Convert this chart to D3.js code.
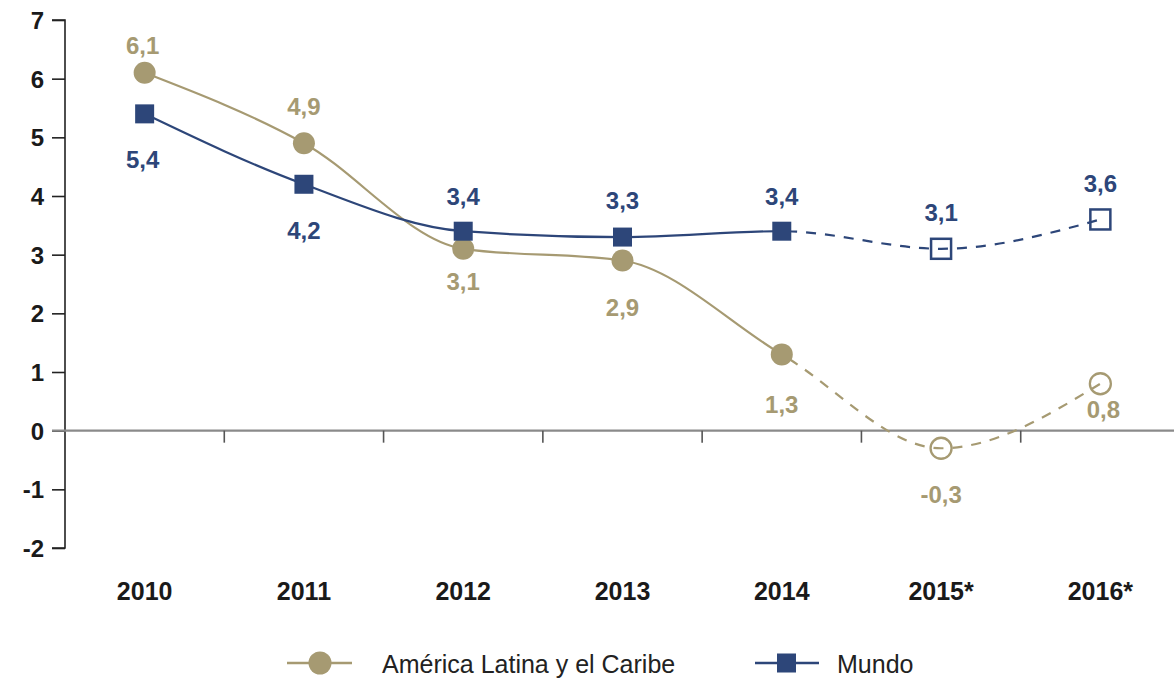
<!DOCTYPE html>
<html>
<head>
<meta charset="utf-8">
<script src="https://cdn.jsdelivr.net/npm/d3@7"></script>
<style>
  html, body { margin: 0; padding: 0; background: #fff; }
  svg { display: block; }
</style>
</head>
<body>
<svg id="chart" width="1174" height="679"></svg>
<script>
// ---- Data ----
const years = ["2010", "2011", "2012", "2013", "2014", "2015*", "2016*"];
const latamValues = [6.1, 4.9, 3.1, 2.9, 1.3, -0.3, 0.8];
const mundoValues = [5.4, 4.2, 3.4, 3.3, 3.4, 3.1, 3.6];
const latamLabels = ["6,1", "4,9", "3,1", "2,9", "1,3", "-0,3", "0,8"];
const mundoLabels = ["5,4", "4,2", "3,4", "3,3", "3,4", "3,1", "3,6"];
const yTicks = [-2, -1, 0, 1, 2, 3, 4, 5, 6, 7];
const seriesNames = ["América Latina y el Caribe", "Mundo"];
const lastActualIndex = 4; // 2014: afterwards projections (dashed, hollow)

// ---- Styles ----
const TAN = "#A69A72";
const BLUE = "#2D4679";
const TEXT = "#1a1a1a";
const FONT = "'Liberation Sans', Arial, sans-serif";

const svg = d3.select("#chart");
const x = d3.scaleBand().domain(years).range([65, 1180]).paddingInner(0).paddingOuter(0);
const y = d3.scaleLinear().domain([-2, 7]).range([548, 20]);
const cx = d => x(d) + x.bandwidth() / 2;

// Y axis
const yAxis = d3.axisLeft(y).tickValues(yTicks).tickSize(13).tickPadding(8).tickFormat(d => String(d));
const gy = svg.append("g").attr("transform", "translate(65,0)").call(yAxis);
gy.select(".domain").attr("stroke", "#222").attr("stroke-width", 1.6).attr("d", `M-13,${y(7)}H0V${y(-2)}H-13`);
gy.selectAll(".tick line").attr("stroke", "#222").attr("stroke-width", 1.6);
gy.selectAll(".tick text")
  .attr("fill", TEXT)
  .style("font-family", FONT)
  .style("font-weight", "bold")
  .style("font-size", "24px")
  .attr("dy", "0.36em");

// Zero line with category separators (x axis)
const gx = svg.append("g").attr("transform", `translate(0,${y(0)})`);
gx.append("line").attr("x1", 52).attr("x2", 1174).attr("y1", 0).attr("y2", 0)
  .attr("stroke", "#8a8a8a").attr("stroke-width", 2.4);
gx.selectAll("line.sep").data(years.slice(1)).join("line").attr("class", "sep")
  .attr("x1", d => x(d)).attr("x2", d => x(d)).attr("y1", 0).attr("y2", 12)
  .attr("stroke", "#555").attr("stroke-width", 1.6);

// X labels
svg.append("g").selectAll("text").data(years).join("text")
  .attr("x", d => cx(d)).attr("y", 591)
  .attr("text-anchor", "middle").attr("dominant-baseline", "central")
  .attr("fill", TEXT)
  .style("font-family", FONT)
  .style("font-weight", "bold").style("font-size", "25px")
  .text(d => d);

// Clip paths for solid / dashed portions
const splitX = cx(years[lastActualIndex]);
const defs = svg.append("defs");
defs.append("clipPath").attr("id", "clipSolid").append("rect")
  .attr("x", 0).attr("y", 0).attr("width", splitX).attr("height", 679);
defs.append("clipPath").attr("id", "clipDash").append("rect")
  .attr("x", splitX).attr("y", 0).attr("width", 1174 - splitX).attr("height", 679);

const line = d3.line().x((d, i) => cx(years[i])).y(d => y(d)).curve(d3.curveMonotoneX);

function drawSeries(values, color) {
  svg.append("path").attr("d", line(values)).attr("fill", "none")
    .attr("stroke", color).attr("stroke-width", 2.2).attr("clip-path", "url(#clipSolid)");
  svg.append("path").attr("d", line(values)).attr("fill", "none")
    .attr("stroke", color).attr("stroke-width", 2.2).attr("stroke-dasharray", "10,9")
    .attr("clip-path", "url(#clipDash)");
}
drawSeries(latamValues, TAN);
drawSeries(mundoValues, BLUE);

// Markers
const gm = svg.append("g");
latamValues.forEach((v, i) => {
  const proj = i > lastActualIndex;
  gm.append("circle").attr("cx", cx(years[i])).attr("cy", y(v))
    .attr("r", proj ? 10.5 : 11)
    .attr("fill", proj ? "none" : TAN)
    .attr("stroke", TAN).attr("stroke-width", proj ? 2.3 : 0);
});
mundoValues.forEach((v, i) => {
  const proj = i > lastActualIndex;
  const s = proj ? 20 : 19;
  gm.append("rect").attr("x", cx(years[i]) - s / 2).attr("y", y(v) - s / 2)
    .attr("width", s).attr("height", s)
    .attr("fill", proj ? "none" : BLUE)
    .attr("stroke", BLUE).attr("stroke-width", proj ? 2.5 : 0);
});

// Data labels (offsets chosen to avoid the lines)
const latamDy = [-27, -37, 33, 47, 50, 46, 26];
const latamDx = [-2, 0, 0, 0, 0, 0, 3];
const mundoDy = [46, 46, -35, -37, -35, -36, -36];
const mundoDx = [-2, 0, 0, 0, 0, 0, 0];
function drawLabels(values, labels, dys, dxs, color) {
  svg.append("g").selectAll("text").data(values).join("text")
    .attr("x", (d, i) => cx(years[i]) + dxs[i])
    .attr("y", (d, i) => y(d) + dys[i])
    .attr("text-anchor", "middle").attr("dominant-baseline", "central")
    .attr("fill", color)
    .style("font-family", FONT)
    .style("font-weight", "bold").style("font-size", "24px")
    .text((d, i) => labels[i]);
}
drawLabels(latamValues, latamLabels, latamDy, latamDx, TAN);
drawLabels(mundoValues, mundoLabels, mundoDy, mundoDx, BLUE);

// Legend
const lg = svg.append("g");
const legendY = 663;
lg.append("line").attr("x1", 287).attr("x2", 352).attr("y1", legendY).attr("y2", legendY)
  .attr("stroke", TAN).attr("stroke-width", 2.6);
lg.append("circle").attr("cx", 320).attr("cy", legendY).attr("r", 11.5).attr("fill", TAN);
lg.append("text").attr("x", 382).attr("y", legendY + 1).attr("dominant-baseline", "central")
  .attr("fill", "#222")
  .style("font-family", FONT)
  .style("font-size", "25px").text(seriesNames[0]);
lg.append("line").attr("x1", 755).attr("x2", 819).attr("y1", legendY).attr("y2", legendY)
  .attr("stroke", BLUE).attr("stroke-width", 2.6);
lg.append("rect").attr("x", 777).attr("y", legendY - 9.5).attr("width", 19).attr("height", 19).attr("fill", BLUE);
lg.append("text").attr("x", 837).attr("y", legendY + 1).attr("dominant-baseline", "central")
  .attr("fill", "#222")
  .style("font-family", FONT)
  .style("font-size", "25px").text(seriesNames[1]);
</script>
</body>
</html>
